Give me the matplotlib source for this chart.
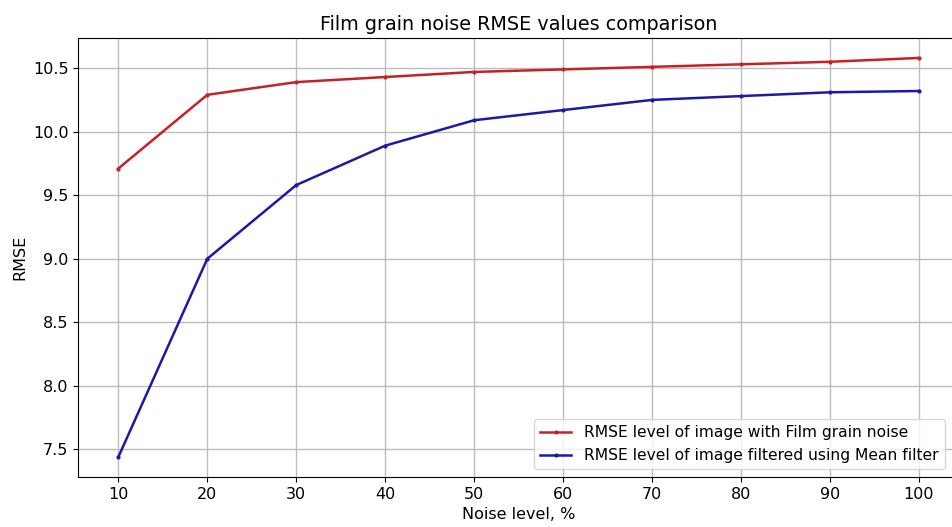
import matplotlib
matplotlib.use("Agg")
import matplotlib.pyplot as plt

noise_levels = [10, 20, 30, 40, 50, 60, 70, 80, 90, 100]
rmse_noisy = [9.71, 10.29, 10.39, 10.43, 10.47, 10.49, 10.51, 10.53, 10.55, 10.58]
rmse_mean = [7.44, 9.00, 9.58, 9.89, 10.09, 10.17, 10.25, 10.28, 10.31, 10.32]

label_noisy = "RMSE level of image with Film grain noise"
label_mean = "RMSE level of image filtered using Mean filter"

fig = plt.figure(figsize=(9.52, 5.27), dpi=100)
ax = fig.add_axes([78.3 / 952, 1 - 477 / 527, (959 - 78.3) / 952, (477 - 38) / 527])

ax.plot(noise_levels, rmse_noisy, color="#c42226", lw=1.8, marker=".", ms=4, label=label_noisy)
ax.plot(noise_levels, rmse_mean, color="#1a1aa6", lw=1.8, marker=".", ms=4, label=label_mean)

ax.set_xticks(noise_levels)
ax.set_yticks([7.5, 8.0, 8.5, 9.0, 9.5, 10.0, 10.5])
ax.tick_params(labelsize=11.5)
ax.grid(True, color="#bdbdbd", lw=1)
ax.set_title("Film grain noise RMSE values comparison", fontsize=13.8)
ax.set_xlabel("Noise level, %", fontsize=11.5)
ax.set_ylabel("RMSE", fontsize=11.5)
ax.legend(loc="lower right", fontsize=11.2, bbox_to_anchor=(0.9925, 0.0))

fig.savefig("out.png", dpi=100)
